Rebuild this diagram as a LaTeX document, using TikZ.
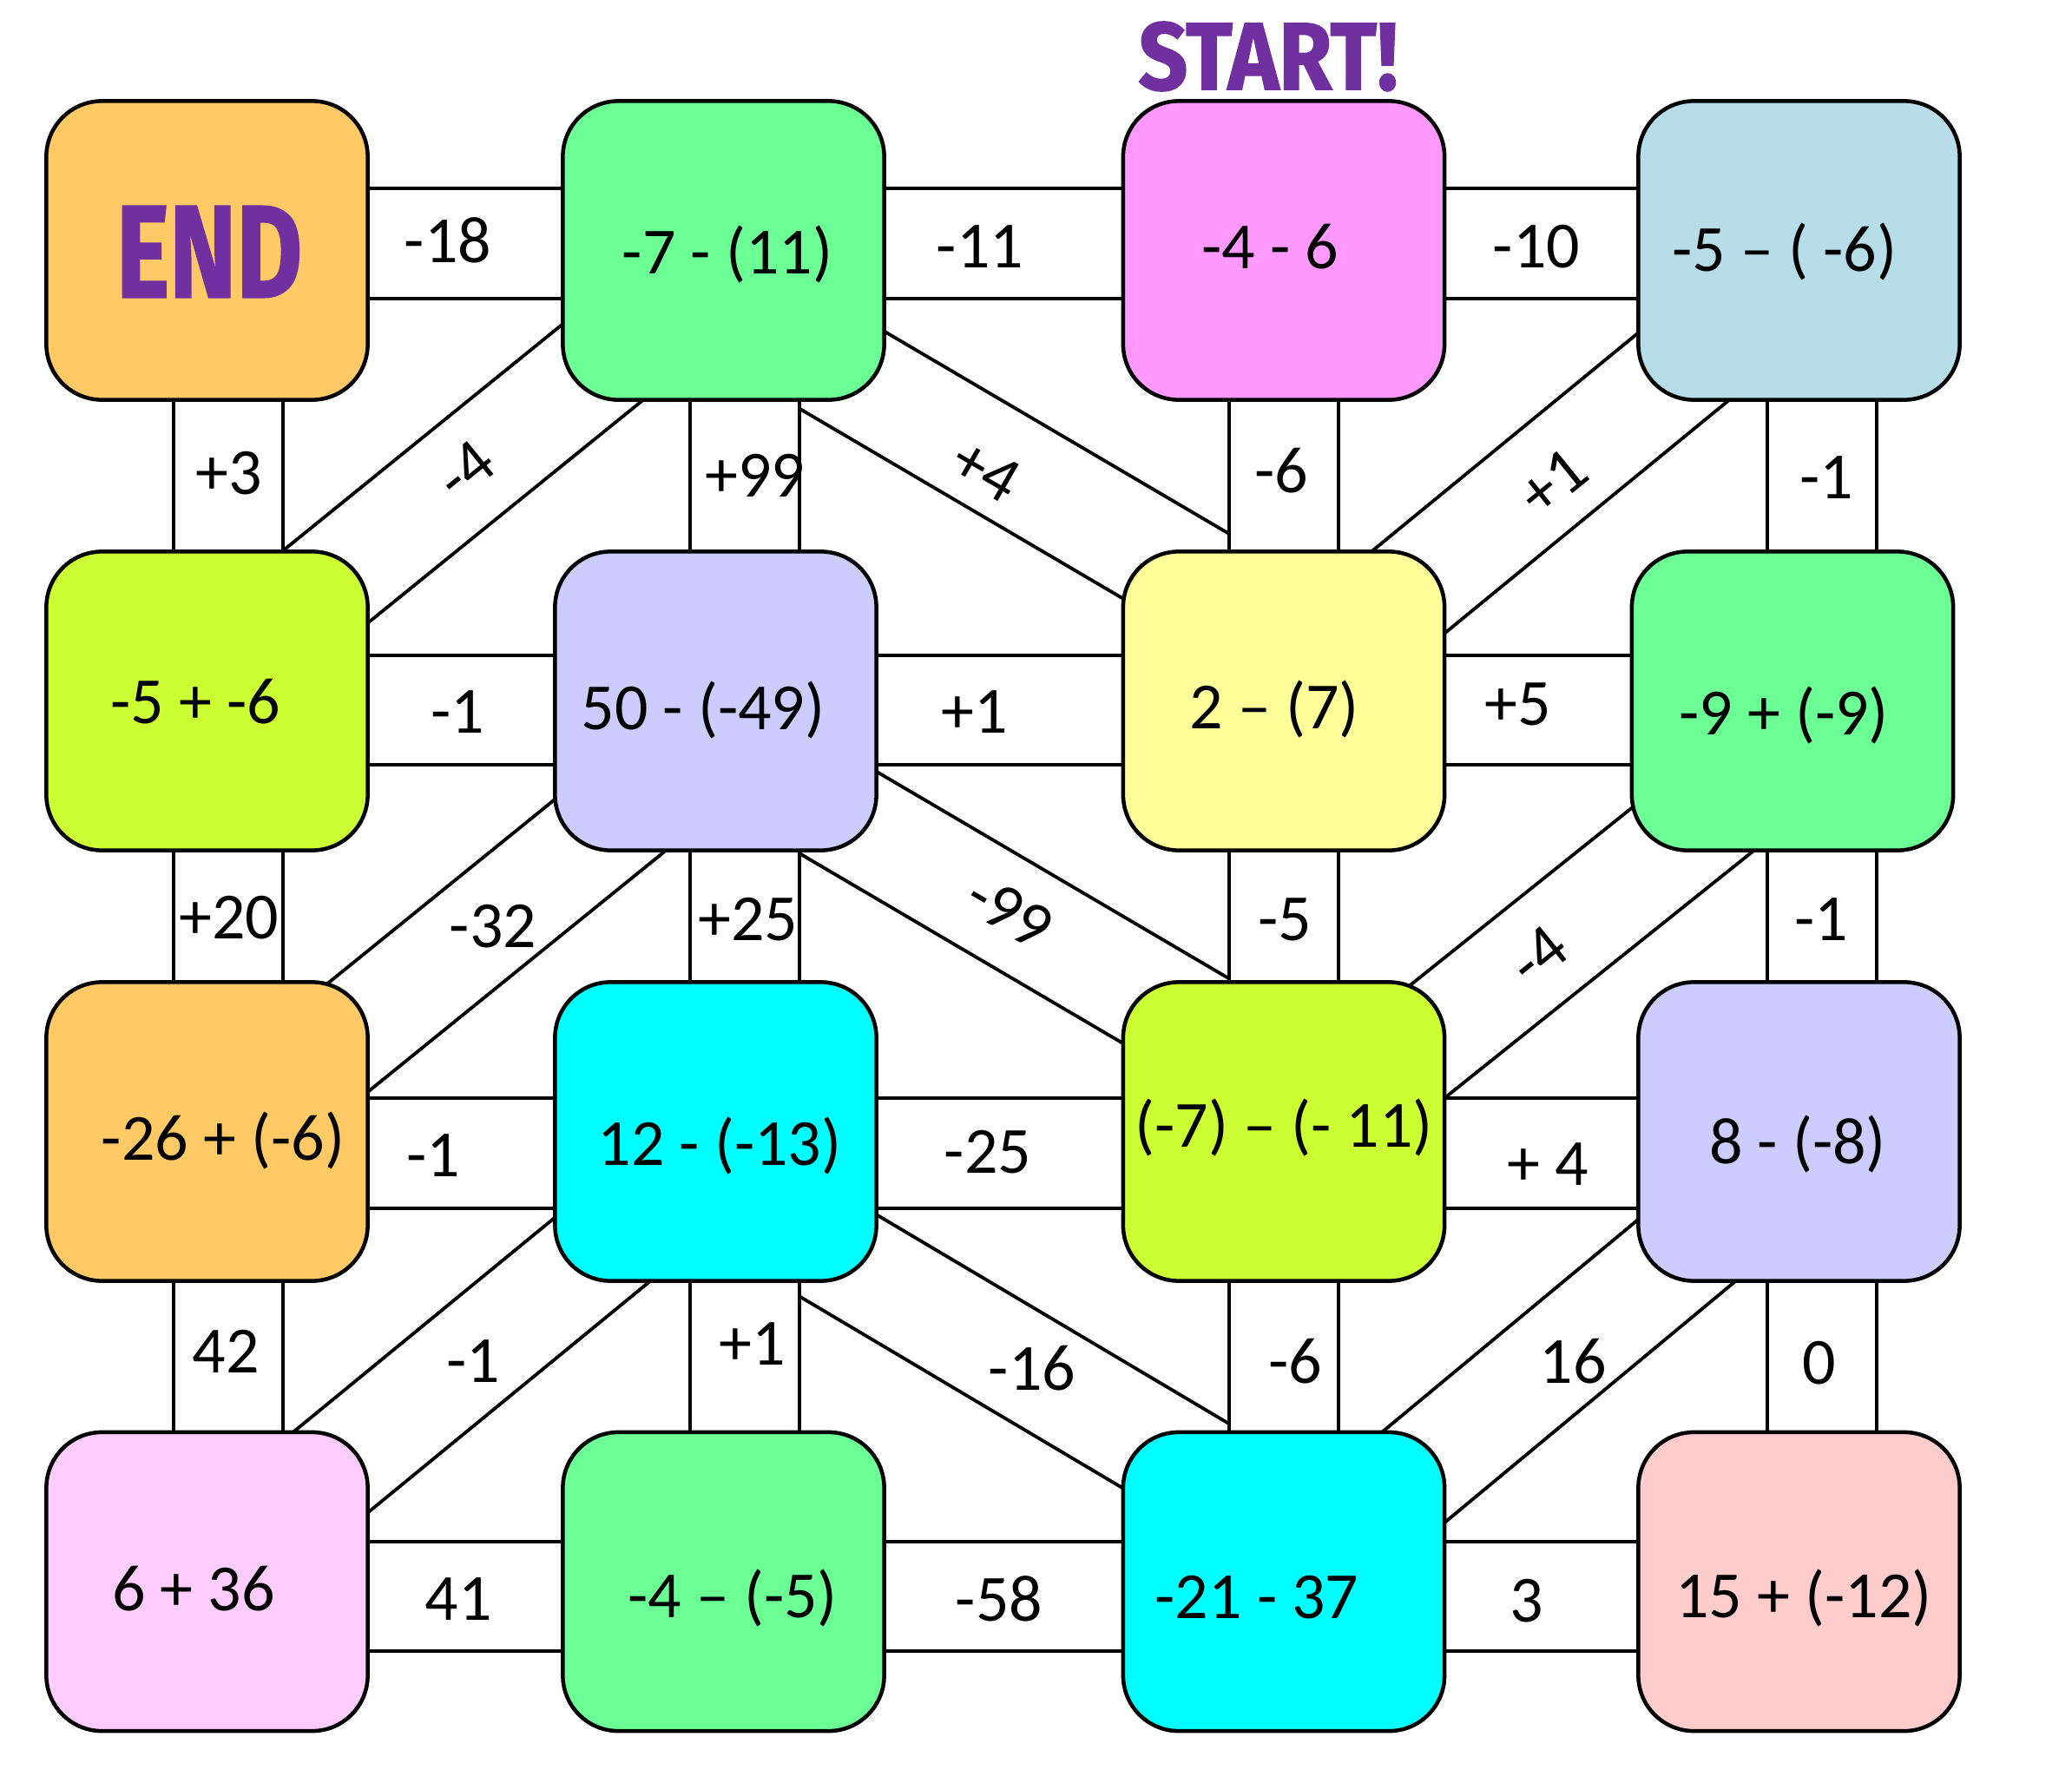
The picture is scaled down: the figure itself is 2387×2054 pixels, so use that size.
\documentclass[tikz,border=0pt]{standalone}
\usepackage{fontspec}
\setmainfont{Carlito}
\newfontfamily\cartoonfont{Fira Sans}[BoldFeatures={FakeBold=1.5}]

\pgfdeclarelayer{bg}
\pgfsetlayers{bg,main}

\definecolor{boxorange}{HTML}{FFC966}
\definecolor{boxgreen}{HTML}{6BFF96}
\definecolor{boxpink}{HTML}{FF99FF}
\definecolor{boxblue}{HTML}{B7DEE8}
\definecolor{boxlime}{HTML}{CCFF33}
\definecolor{boxlilac}{HTML}{CCCCFF}
\definecolor{boxyellow}{HTML}{FFFF99}
\definecolor{boxcyan}{HTML}{00FFFF}
\definecolor{boxrose}{HTML}{FFCCFF}
\definecolor{boxsalmon}{HTML}{FFCCCC}
\definecolor{titlepurple}{HTML}{7030A0}

\tikzset{
  cell/.style={draw=black, line width=0.045cm, rounded corners=0.64cm,
               minimum width=3.7cm, minimum height=3.44cm},
  band/.style={draw=black, line width=0.04cm, double=white, double distance=1.22cm},
  num/.style={font=\fontsize{21.6}{26}\selectfont, inner sep=0pt}
}

\newcommand{\cartoon}[3]{\scalebox{#2}[1]{\cartoonfont\bfseries\color{titlepurple}\fontsize{#1}{#1}\selectfont #3}}

\newcommand{\cell}[7]{
  % box
  \node[cell,fill=#4] (#1) at (#2,#3) {};
  % sum
  \node[num] (t#1) at ([shift={(#6,#7)}]#1.center) {#5};
}

\begin{document}
\begin{tikzpicture}[x=0.01cm,y=-0.01cm]
\useasboundingbox (0,0) rectangle (2387,2054);

\foreach \n/\x/\y/\col/\txt/\dx/\dy in {
    b11/238.5/288.5/boxorange/{\cartoon{43}{0.77}{END}}/2.5/1.5,
    b12/833.5/288.5/boxgreen/{-7 - (11)}/4.5/4.5,
    b13/1479/288.5/boxpink/{-4 - 6}/-16/-4.5,
    b14/2072.5/288.5/boxblue/{-5 -- ( -6)}/-16.5/1.5,
    b21/238.5/807.5/boxlime/{-5 + -6}/-13.5/0.5,
    b22/824.5/807.5/boxlilac/{50 - (-49)}/-14.5/10.5,
    b23/1479/807.5/boxyellow/{2 -- (7)}/-11/9.5,
    b24/2065/807.5/boxgreen/{-9 + (-9)}/-10/16.5,
    b31/238.5/1303.5/boxorange/{-26 + (-6)}/18.5/10.5,
    b32/824.5/1303.5/boxcyan/{12 - (-13)}/4.5/16.5,
    b33/1479/1303.5/boxlime/{(-7) -- (- 11)}/0/-4.5,
    b34/2072.5/1303.5/boxlilac/{8 - (-8)}/-1.5/14.5,
    b41/238.5/1822/boxrose/{6 + 36}/-15.5/8,
    b42/833.5/1822/boxgreen/{-4 -- (-5)}/10.5/19,
    b43/1479/1822/boxcyan/{-21 - 37}/-31/18,
    b44/2072.5/1822/boxsalmon/{15 + (-12)}/5.5/19}
  {
    \cell{\n}{\x}{\y}{\col}{\txt}{\dx}{\dy}
  }

\node[inner sep=0pt] (start) at (1461,65) {\cartoon{31.3}{0.9}{START!}};

\begin{pgfonlayer}{bg}
  \fill[white] (0,0) rectangle (2387,2054);
  % slanted bands
  \foreach \a/\da/\b/\db in {b12/16/b21/-21, b12/57.7/b23/-82.4, b14/24.7/b23/-7.7,
                             b22/44.5/b31/23.2, b22/45.8/b33/-66, b24/55.9/b33/28.7,
                             b32/28.8/b41/-9.2, b32/59.3/b43/-71.1, b34/29.6/b43/3.7}
    \draw[band] ([shift={(0,\da)}]\a.center) -- ([shift={(0,\db)}]\b.center);
  % across
  \foreach \a/\b/\dy in {b11/b12/-8, b12/b13/-8, b13/b14/-8,
                         b21/b22/10.5, b22/b23/10.5, b23/b24/10.5,
                         b31/b32/25, b32/b33/25, b33/b34/25,
                         b41/b42/17, b42/b43/17, b43/b44/17}
    \draw[band] ([shift={(0,\dy)}]\a.center) -- ([shift={(0,\dy)}]\b.center);
  % down
  \foreach \a/\da/\b/\db in {b11/24.5/b21/24.5, b12/24.5/b22/33.5, b13/0/b23/0, b14/26.5/b24/34,
                             b21/24.5/b31/24.5, b22/33.5/b32/33.5, b23/0/b33/0, b24/34/b34/26.5,
                             b31/24.5/b41/24.5, b32/33.5/b42/24.5, b33/0/b43/0, b34/26.5/b44/26.5}
    \draw[band] ([shift={(\da,0)}]\a.center) -- ([shift={(\db,0)}]\b.center);
\end{pgfonlayer}

% steps
\foreach \n/\x/\y/\r/\txt in {
    l1112/516/277/0/-18, l1213/1129/284/0/-11, l1314/1770/284/0/-10,
    l2122/527/820/0/-1, l2223/1123/820/0/+1, l2324/1749/811/0/+5,
    l3132/499/1331/0/-1, l3233/1138/1327/0/-25, l3334/1783/1341/0/+ 4,
    l4142/528/1842/0/41, l4243/1151/1842/0/-58, l4344/1759/1844/0/3,
    l1121/264/545/0/+3, l1222/870/548/0/+99, l1323/1476/542/0/-6, l1424/2104/550/0/-1,
    l2131/264/1057/0/+20, l2232/862/1059/0/+25, l2333/1480/1059/0/-5, l2434/2098/1059/0/-1,
    l3141/260/1557/0/42, l3242/867/1548/0/+1, l3343/1492/1568/0/-6, l3444/2096/1570/0/0,
    l1221/536/542/39/-4, l1223/1136/542/-30/+4, l1423/1789/555/39/+1,
    l2231/568/1067/0/-32, l2233/1163/1050/-30/-99, l2433/1772/1101/39/-4,
    l3241/545/1568/0/-1, l3243/1189/1576/0/-16, l3443/1812/1568/0/16}
  \node[num,rotate=\r] (\n) at (\x,\y) {\txt};
\end{tikzpicture}
\end{document}
